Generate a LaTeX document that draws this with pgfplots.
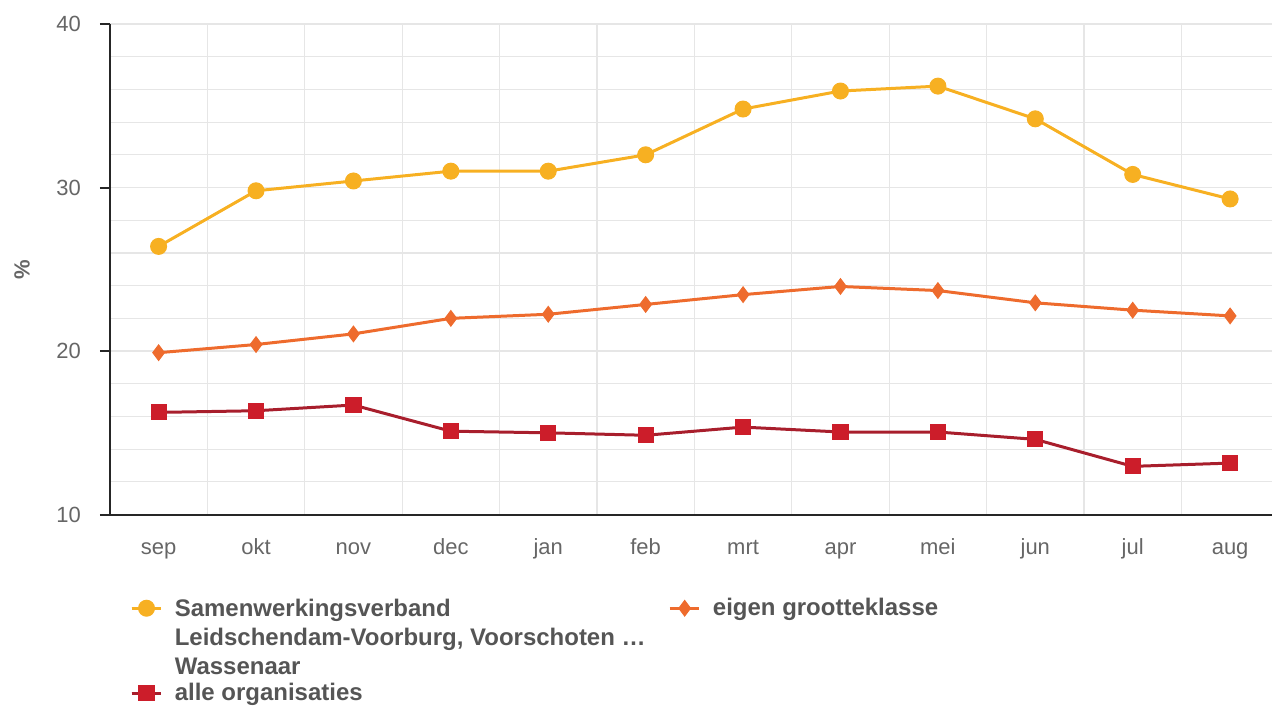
\documentclass[border=0pt]{standalone}
\usepackage{pgfplots}
\pgfplotsset{compat=1.18}
\usepackage{fontspec}
\setmainfont{Liberation Sans}
\definecolor{cyel}{HTML}{F7B022}
\definecolor{cora}{HTML}{EE6B2D}
\definecolor{cred}{HTML}{CC1D2A}
\definecolor{credl}{HTML}{A81E2C}
\definecolor{ctxt}{HTML}{666666}
\definecolor{cleg}{HTML}{555555}
\definecolor{cgrid}{HTML}{E6E6E6}
\begin{document}
\begin{tikzpicture}
\begin{axis}[
  scale only axis, width=581.5pt, height=245.5pt,
  xmin=-0.5, xmax=11.43, ymin=10, ymax=40,
  axis x line*=bottom, axis y line*=left,
  axis line style={black!85, line width=1pt, -},
  xtick={0,...,11},
  xticklabels={sep,okt,nov,dec,jan,feb,mrt,apr,mei,jun,jul,aug},
  minor xtick={-0.5,0.5,...,11.5},
  ytick={10,20,30,40}, minor ytick={12,14,16,18,22,24,26,28,32,34,36,38},
  xminorgrids=true, ymajorgrids=true, yminorgrids=true,
  grid style={cgrid, line width=0.6pt},
  minor grid style={cgrid, line width=0.6pt},
  tick align=outside, major tick length=5pt, minor tick length=0pt,
  xtick style={draw=none},
  ytick style={black!85, line width=1pt},
  /pgf/number format/assume math mode=true,
  ticklabel style={font=\fontsize{11}{13}\selectfont, text=ctxt},
  yticklabel style={xshift=-6pt},
  xticklabel style={yshift=-3.5pt, text height=8pt, text depth=2.5pt},
  ylabel={\%},
  ylabel style={at={(axis description cs:-0.0757,0.5)}, anchor=center, font=\fontsize{11}{13}\selectfont\bfseries, text=ctxt},
  legend columns=2,
  legend cell align=left,
  legend style={draw=none, fill=none, at={(axis description cs:0.012,-0.15)}, anchor=north west,
    font=\fontsize{12}{14.5}\selectfont\bfseries, text=cleg, column sep=4pt, row sep=27.5pt},
  legend image code/.code={\draw[#1] (0cm,0cm) -- (0.52cm,0cm); \draw[#1, mark repeat=2, mark phase=2] plot coordinates {(0cm,0cm) (0.26cm,0cm) (0.52cm,0cm)};},
]
\coordinate (ll) at (rel axis cs:0,0);
\addplot[cyel, line width=1.5pt, mark=*, mark size=4pt, mark options={fill=cyel, draw=cyel, line width=0.5pt}]
  coordinates {(0,26.4) (1,29.8) (2,30.4) (3,31.0) (4,31.0) (5,32.0) (6,34.8) (7,35.9) (8,36.2) (9,34.2) (10,30.8) (11,29.3)};
\addlegendentry{\begin{tabular}[t]{@{}p{241pt}@{}}Samenwerkingsverband\\Leidschendam-Voorburg, Voorschoten \dots\\Wassenaar\end{tabular}}
\addplot[cora, line width=1.5pt, mark=diamond*, mark size=3.9pt, mark options={fill=cora, draw=cora, line width=0.5pt}]
  coordinates {(0,19.9) (1,20.4) (2,21.05) (3,22.0) (4,22.25) (5,22.85) (6,23.45) (7,23.95) (8,23.7) (9,22.95) (10,22.5) (11,22.15)};
\addlegendentry{eigen grootteklasse}
\addplot[credl, line width=1.5pt, mark=square*, mark size=3.8pt, mark options={fill=cred, draw=cred, line width=0.5pt}]
  coordinates {(0,16.25) (1,16.35) (2,16.7) (3,15.1) (4,15.0) (5,14.85) (6,15.35) (7,15.05) (8,15.05) (9,14.6) (10,12.95) (11,13.15)};
\addlegendentry{alle organisaties}
\end{axis}
\path[use as bounding box] ([xshift=-55pt,yshift=-95.5pt]ll) rectangle ([xshift=581.5pt,yshift=257.5pt]ll);
\end{tikzpicture}
\end{document}
